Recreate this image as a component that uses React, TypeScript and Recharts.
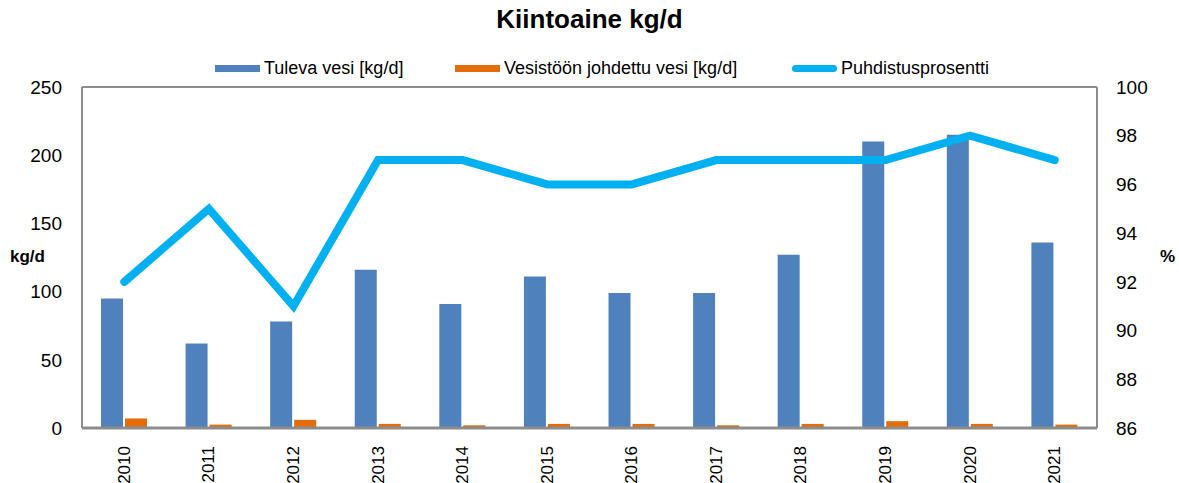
import { Bar, CartesianGrid, ComposedChart, Line, XAxis, YAxis } from "recharts";

const years = ["2010", "2011", "2012", "2013", "2014", "2015", "2016", "2017", "2018", "2019", "2020", "2021"];
const tuleva = [95, 62, 78, 116, 91, 111, 99, 99, 127, 210, 215, 136];
const vesistoon = [7, 2.5, 6, 3, 2, 3, 3, 2, 3, 5, 3, 2.5];
const puhdistus = [92, 95, 91, 97, 97, 96, 96, 97, 97, 97, 98, 97];
const leftTicks = [0, 50, 100, 150, 200, 250];
const rightTicks = [86, 88, 90, 92, 94, 96, 98, 100];

const data = years.map((year, i) => ({
  year,
  tuleva: tuleva[i],
  vesistoon: vesistoon[i],
  puhdistus: puhdistus[i]
}));

const font = "'Liberation Sans', Arial, sans-serif";

function YearTick({ x, y, payload }: any) {
  return (
    <text x={x} y={y + 10} transform={`rotate(-90 ${x} ${y + 10})`} textAnchor="end" dominantBaseline="central" fill="#000" fontSize={17} fontFamily={font}>
      {payload.value}
    </text>
  );
}

const legendItems = [
  { label: "Tuleva vesi [kg/d]", color: "#4f81bd", line: false, left: 215 },
  { label: "Vesistöön johdettu vesi [kg/d]", color: "#e46c0a", line: false, left: 455 },
  { label: "Puhdistusprosentti", color: "#00b0f0", line: true, left: 792 }
];

export default function App() {
  return (
    <div style={{ position: "absolute", left: 0, top: 0, width: 1179, height: 483, background: "#fff", fontFamily: font }}>
      <ComposedChart width={1179} height={483} data={data} margin={{ top: 87, right: 32, bottom: 0, left: 32 }} barGap={2} barSize={22}>
        <CartesianGrid vertical={false} stroke="#8c8c8c" strokeWidth={2} />
        <XAxis dataKey="year" height={55} tick={<YearTick />} tickLine={false} axisLine={{ stroke: "#8c8c8c", strokeWidth: 3 }} interval={0} />
        <YAxis
          yAxisId="left"
          width={50}
          domain={[0, 250]}
          ticks={leftTicks}
          tick={{ fill: "#000", fontSize: 19, fontFamily: font }}
          tickLine={false}
          axisLine={{ stroke: "#8c8c8c", strokeWidth: 2 }}
          tickMargin={14}
        />
        <YAxis
          yAxisId="right"
          orientation="right"
          width={50}
          domain={[86, 100]}
          ticks={rightTicks}
          tick={{ fill: "#000", fontSize: 19, fontFamily: font }}
          tickLine={false}
          axisLine={{ stroke: "#8c8c8c", strokeWidth: 2 }}
          tickMargin={13}
        />
        <Bar yAxisId="left" dataKey="tuleva" name="Tuleva vesi [kg/d]" fill="#4f81bd" isAnimationActive={false} />
        <Bar yAxisId="left" dataKey="vesistoon" name="Vesistöön johdettu vesi [kg/d]" fill="#e46c0a" isAnimationActive={false} />
        <Line
          yAxisId="right"
          dataKey="puhdistus"
          name="Puhdistusprosentti"
          type="linear"
          stroke="#00b0f0"
          strokeWidth={8}
          strokeLinecap="round"
          dot={false}
          activeDot={false}
          isAnimationActive={false}
        />
      </ComposedChart>
      <div style={{ position: "absolute", top: 4, width: 1179, textAlign: "center", fontSize: 26, fontWeight: "bold", color: "#000" }}>
        Kiintoaine kg/d
      </div>
      {legendItems.map((item) => (
        <div
          key={item.label}
          style={{ position: "absolute", left: item.left, top: 57, height: 22, display: "flex", alignItems: "center", fontSize: 18, color: "#000", whiteSpace: "nowrap" }}
        >
          <span
            style={{ display: "inline-block", width: 45, height: 7, background: item.color, borderRadius: item.line ? 4 : 0, marginRight: 4 }}
          />
          {item.label}
        </div>
      ))}
      <div style={{ position: "absolute", left: 10, top: 247, fontSize: 17, fontWeight: "bold" }}>kg/d</div>
      <div style={{ position: "absolute", left: 1160, top: 247, fontSize: 17, fontWeight: "bold" }}>%</div>
    </div>
  );
}
